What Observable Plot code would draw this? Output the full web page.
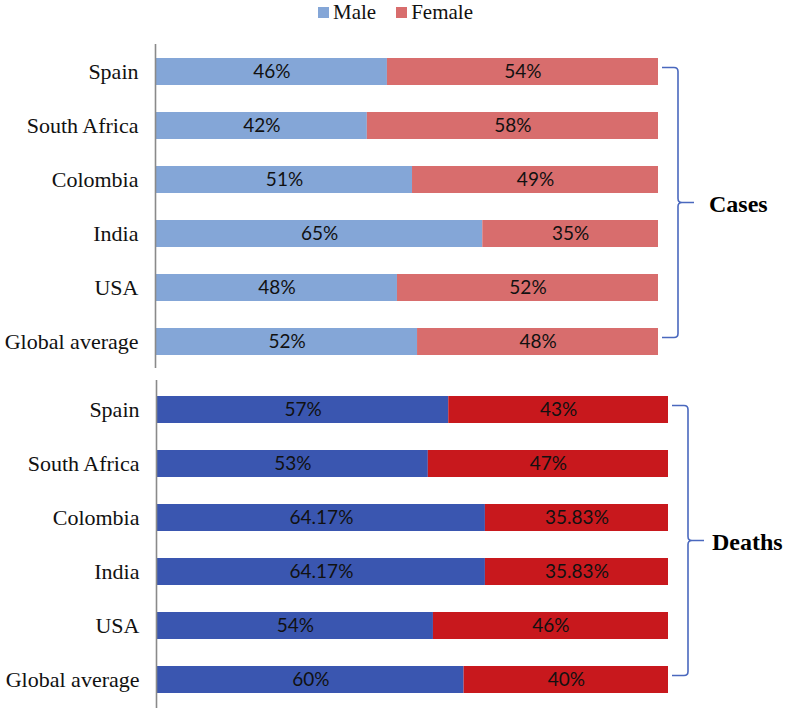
<!DOCTYPE html>
<html>
<head>
<meta charset="utf-8">
<script src="https://cdn.jsdelivr.net/npm/d3@7"></script>
<script src="https://cdn.jsdelivr.net/npm/@observablehq/plot@0.6"></script>
<style>
  html, body { margin: 0; padding: 0; background: #fff; }
  #wrap { width: 787px; }
  #legend { height: 24px; display: flex; justify-content: center; align-items: center; padding-left: 4px;
    font-family: "Liberation Serif", "Times New Roman", serif; font-size: 21px; line-height: 24px; color: #111; }
  #legend .item { display: flex; align-items: center; margin: 0 10px; }
  #legend .sw { width: 11px; height: 11px; margin-right: 4px; }
  svg { display: block; }
</style>
</head>
<body>
<div id="wrap">
  <div id="legend"></div>
  <div id="top"></div>
  <div id="bottom"></div>
</div>
<script>
const countries = ["Spain", "South Africa", "Colombia", "India", "USA", "Global average"];
const sexes = ["Male", "Female"];
const casesMale = [46, 42, 51, 65, 48, 52];
const casesFemale = [54, 58, 49, 35, 52, 48];
const deathsMale = [57, 53, 64.17, 64.17, 54, 60];
const deathsFemale = [43, 47, 35.83, 35.83, 46, 40];
const panelLabels = ["Cases", "Deaths"];

const casesColors = ["#84A6D7", "#D86D6D"];
const deathsColors = ["#3A56B0", "#C8181D"];

function rows(male, female) {
  const out = [];
  countries.forEach((c, i) => out.push({country: c, sex: "Male", value: male[i]}));
  countries.forEach((c, i) => out.push({country: c, sex: "Female", value: female[i]}));
  return out;
}

// legend
const leg = document.getElementById("legend");
sexes.forEach((s, i) => {
  const it = document.createElement("div");
  it.className = "item";
  const sw = document.createElement("div");
  sw.className = "sw";
  sw.style.background = casesColors[i];
  const t = document.createElement("span");
  t.textContent = s;
  it.appendChild(sw); it.appendChild(t);
  leg.appendChild(it);
});

function braceMark(label) {
  return function(...args) {
    const scales = args.find(a => a && typeof a === "object" && typeof a.x === "function" && typeof a.y === "function");
    const x = scales.x, y = scales.y;
    const bw = y.bandwidth ? y.bandwidth() : 0;
    const yTop = y(countries[0]) + bw / 2 - 4;
    const yBot = y(countries[countries.length - 1]) + bw / 2 - 4;
    const mid = (yTop + yBot) / 2;
    const xEnd = x(100);
    const x0 = xEnd + 4, xv = xEnd + 20, xTip = xv + 16;
    const g = d3.create("svg:g");
    g.append("path")
      .attr("fill", "none")
      .attr("stroke", "#4A68BE")
      .attr("stroke-width", 1.6)
      .attr("d", `M${x0},${yTop} L${xv - 4},${yTop} Q${xv},${yTop} ${xv},${yTop + 4} L${xv},${mid - 4} Q${xv},${mid} ${xv + 4},${mid} L${xTip},${mid} M${xv + 4},${mid} Q${xv},${mid} ${xv},${mid + 4} L${xv},${yBot - 4} Q${xv},${yBot} ${xv - 4},${yBot} L${x0},${yBot}`);
    g.append("text")
      .attr("x", Math.min(xTip + 15, 712))
      .attr("y", mid + 9)
      .attr("text-anchor", "start")
      .attr("font-family", "Liberation Serif, Times New Roman, serif")
      .attr("font-weight", "bold")
      .attr("font-size", 24)
      .attr("fill", "#000")
      .text(label);
    return g.node();
  };
}

function panel(data, colors, label, opts) {
  return Plot.plot({
    width: 787,
    height: opts.height,
    marginTop: opts.marginTop,
    marginBottom: opts.marginBottom,
    marginLeft: opts.marginLeft,
    marginRight: 787 - opts.xRight,
    style: {fontFamily: "Liberation Serif, Times New Roman, serif", fontSize: "22px", color: "#111", background: "#fff", overflow: "visible"},
    x: {domain: [0, 100], axis: null},
    y: {domain: countries, paddingInner: 0.5, paddingOuter: 0.25, tickSize: 0, tickPadding: 18, label: null},
    color: {domain: sexes, range: colors},
    marks: [
      Plot.barX(data, Plot.stackX({x: "value", y: "country", fill: "sex", z: "sex", order: null, inset: 0})),
      Plot.text(data, Plot.stackX({x: "value", y: "country", z: "sex", order: null,
        text: d => d.value + "%", fontFamily: "Lato, Carlito, sans-serif", fontSize: 19, fill: "#111"})),
      Plot.ruleX([0], {stroke: "#8a8a8a", strokeWidth: 1.6, dx: -1}),
      braceMark(label)
    ]
  });
}

document.getElementById("top").appendChild(panel(rows(casesMale, casesFemale), casesColors, panelLabels[0],
  {height: 350, marginTop: 20, marginBottom: 6, marginLeft: 156, xRight: 658}));
document.getElementById("bottom").appendChild(panel(rows(deathsMale, deathsFemale), deathsColors, panelLabels[1],
  {height: 334, marginTop: 6, marginBottom: 0, marginLeft: 157, xRight: 668}));
</script>
</body>
</html>
